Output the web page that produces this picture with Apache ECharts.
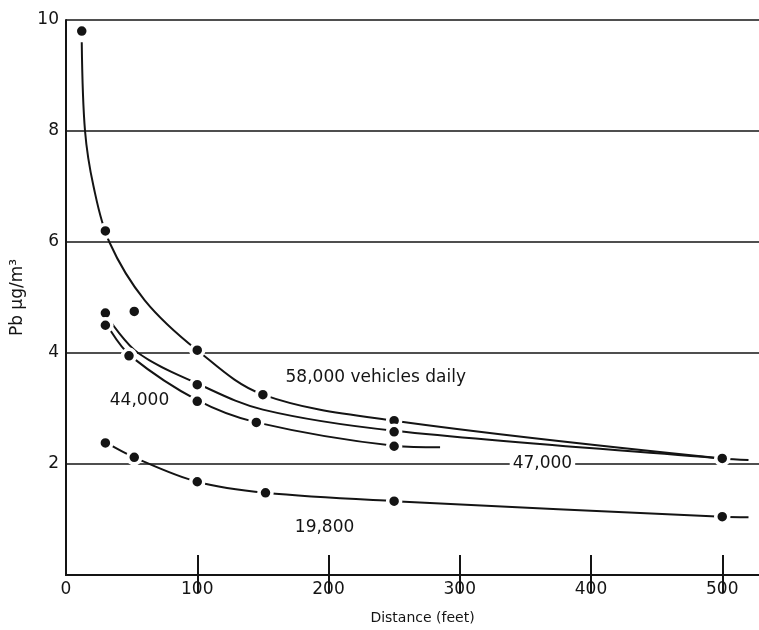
<!DOCTYPE html>
<html>
<head>
<meta charset="utf-8">
<script src="https://cdn.jsdelivr.net/npm/echarts@6/dist/echarts.min.js"></script>
<style>
    html, body { margin: 0; padding: 0; background: #fff; }
    #chart { width: 759px; height: 630px; }
</style>
</head>
<body>
<div id="chart"></div>
<script>
// measured dots (distance in feet, Pb in µg/m3)
const dots58 = [[12, 9.8], [30, 6.2], [100, 4.05], [150, 3.25], [250, 2.78], [500, 2.1]];
const dots47 = [[30, 4.72], [100, 3.43], [250, 2.58]];
const dots44 = [[30, 4.5], [48, 3.95], [100, 3.13], [145, 2.75], [250, 2.32]];
const dotsOther = [[52, 4.75]];
const dots19800 = [[30, 2.38], [52, 2.12], [100, 1.68], [152, 1.48], [250, 1.33], [500, 1.05]];

// fitted curves as drawn on the chart
const curve58 = [[12, 9.6], [14.5, 8], [21, 7], [33, 6], [60, 4.95], [100, 4.05], [150, 3.25], [250, 2.78], [500, 2.1]];
const curve47 = [[33, 4.6], [55, 4.0], [100, 3.45], [150, 2.98], [250, 2.6], [500, 2.1], [520, 2.07]];
const curve44 = [[34, 4.4], [50, 3.93], [100, 3.15], [145, 2.75], [250, 2.33], [285, 2.3]];
const curve19800 = [[31, 2.38], [52, 2.12], [100, 1.68], [152, 1.48], [250, 1.33], [500, 1.05], [520, 1.04]];

const xTicks = [0, 100, 200, 300, 400, 500];
const yTicks = [2, 4, 6, 8, 10];

const labels = [
    { text: '58,000 vehicles daily', coord: [236, 3.55] },
    { text: '44,000', coord: [56, 3.15] },
    { text: '47,000', coord: [363, 2.0] },
    { text: '19,800', coord: [197, 0.85] }
];

const ink = '#141414';
const font = 'DejaVu Sans';

function curveSeries(data) {
    return {
        type: 'line',
        data: data,
        smooth: 0.35,
        showSymbol: false,
        silent: true,
        lineStyle: { color: ink, width: 2 },
        z: 2
    };
}

function dotSeries(data) {
    return {
        type: 'scatter',
        data: data,
        symbolSize: 13,
        itemStyle: { color: ink, opacity: 1, borderColor: '#fff', borderWidth: 3.5 },
        z: 5
    };
}

const chart = echarts.init(document.getElementById('chart'), null, { renderer: 'canvas' });

const option = {
    backgroundColor: '#fff',
    animation: false,
    textStyle: { fontFamily: font },
    grid: { left: 66, right: 0, top: 20, bottom: 53 },
    xAxis: [{
        type: 'value',
        min: 0,
        max: 528,
        interval: 100,
        name: 'Distance (feet)',
        nameLocation: 'middle',
        nameGap: 36,
        nameTextStyle: { color: ink, fontSize: 14, fontFamily: font, padding: [0, 0, 0, 20] },
        axisLine: { show: true, onZero: false, lineStyle: { color: ink, width: 2 } },
        axisTick: { show: true, inside: true, length: 20, lineStyle: { color: ink, width: 2 },
            customValues: xTicks.slice(1) },
        axisLabel: { color: ink, fontSize: 17, margin: 6, customValues: xTicks,
            formatter: function (v) { return String(v); } },
        splitLine: { show: false }
    }, {
        type: 'value',
        position: 'top',
        min: 0,
        max: 528,
        interval: 100,
        axisLine: { show: true, lineStyle: { color: ink, width: 2 } },
        axisTick: { show: true, inside: true, length: 18, lineStyle: { color: ink, width: 2 },
            customValues: xTicks.slice(1) },
        axisLabel: { show: false },
        splitLine: { show: false }
    }],
    yAxis: {
        type: 'value',
        min: 0,
        max: 10,
        interval: 2,
        name: 'Pb μg/m³',
        nameLocation: 'middle',
        nameRotate: 90,
        nameGap: 38,
        nameTextStyle: { color: ink, fontSize: 17, fontFamily: font },
        axisLine: { show: true, lineStyle: { color: ink, width: 2 } },
        axisTick: { show: false },
        axisLabel: { color: ink, fontSize: 17, margin: 7, customValues: yTicks,
            formatter: function (v) { return String(v); } },
        splitLine: { show: true, lineStyle: { color: ink, width: 1.6 } }
    },
    series: [
        curveSeries(curve58),
        curveSeries(curve47),
        curveSeries(curve44),
        curveSeries(curve19800),
        dotSeries(dots58),
        dotSeries(dots47),
        dotSeries(dots44),
        dotSeries(dotsOther),
        dotSeries(dots19800),
        {
            type: 'scatter',
            data: labels.map(function (l) { return { value: l.coord, name: l.text }; }),
            symbolSize: 0,
            silent: true,
            z: 6,
            itemStyle: { opacity: 1 },
            label: {
                show: true,
                position: 'inside',
                formatter: function (p) { return p.name; },
                color: ink,
                opacity: 1,
                fontSize: 17,
                fontFamily: font,
                backgroundColor: '#fff',
                padding: [0, 3]
            }
        }
    ]
};

chart.setOption(option);
</script>
</body>
</html>
